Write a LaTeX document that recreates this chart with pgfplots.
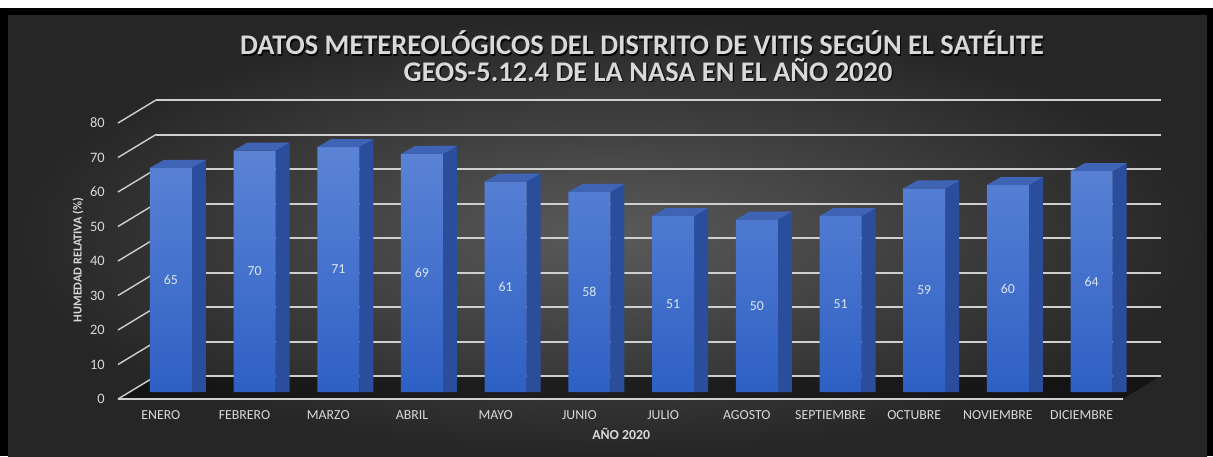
\documentclass[border=0pt]{standalone}
\usepackage{pgfplots}
\pgfplotsset{compat=1.18}
\usepackage{pgfplotstable}
\usepackage{fontspec}
\setmainfont{Carlito}

\definecolor{bgIn}{HTML}{5A5A5A}
\definecolor{bgOut}{HTML}{262626}
\definecolor{gridgray}{HTML}{CFCFCF}
\definecolor{txtgray}{HTML}{D9D9D9}
\definecolor{valtxt}{HTML}{DCE4F6}
\definecolor{frontTop}{HTML}{5C84D6}
\definecolor{frontBot}{HTML}{2E60C4}
\definecolor{sideBlue}{HTML}{2B4E9C}
\definecolor{topBlue}{HTML}{3F63B5}

% humedad relativa mensual (%)
\pgfplotstableread{
i v
0 65
1 70
2 71
3 69
4 61
5 58
6 51
7 50
8 51
9 59
10 60
11 64
}\hum

% cara superior de cada columna (paralelogramo)
\pgfdeclareplotmark{barTop}{%
  \pgfpathmoveto{\pgfqpoint{-10.5pt}{0pt}}%
  \pgfpathlineto{\pgfqpoint{10.5pt}{0pt}}%
  \pgfpathlineto{\pgfqpoint{17.5pt}{4pt}}%
  \pgfpathlineto{\pgfqpoint{-3.5pt}{4pt}}%
  \pgfpathclose
  \pgfusepath{fill}}

\begin{document}
\begin{tikzpicture}
% marco y fondo
\fill[black] (0,0) rectangle (606.5pt,228pt);
\fill[white] (0,224pt) rectangle (606.5pt,228pt);
\shade[inner color=bgIn, outer color=bgOut] (4pt,0) rectangle (603.5pt,220pt);

% titulo
\foreach \dx/\dy/\c in {0.6pt/-0.6pt/black, 0pt/0pt/txtgray}{
  \node[font=\fontsize{14.2}{16}\bfseries, text=\c] at ([xshift=\dx,yshift=\dy]321pt,206.5pt)
    {DATOS METEREOLÓGICOS DEL DISTRITO DE VITIS SEGÚN EL SATÉLITE};
  \node[font=\fontsize{14.2}{16}\bfseries, text=\c] at ([xshift=\dx,yshift=\dy]324pt,193pt)
    {GEOS-5.12.4 DE LA NASA EN EL AÑO 2020};
}

\begin{axis}[
  at={(64.5pt,32pt)}, anchor=south west,
  scale only axis, width=502.25pt, height=138pt,
  xmin=-0.5, xmax=11.5, ymin=0, ymax=80,
  clip=false,
  axis line style={draw=none},
  major tick length=0pt,
  xtick={0,...,11},
  xticklabels={ENERO,FEBRERO,MARZO,ABRIL,MAYO,JUNIO,JULIO,AGOSTO,SEPTIEMBRE,OCTUBRE,NOVIEMBRE,DICIEMBRE},
  ytick={0,10,...,80},
  xticklabel style={anchor=center, xshift=-5pt, yshift=-11.5pt,
    font=\fontsize{6.9}{8}\selectfont, text=txtgray},
  yticklabel style={anchor=east, inner sep=0pt, xshift=-12pt, yshift=-3.5pt,
    font=\fontsize{7.2}{8}\selectfont, text=txtgray},
  /pgf/number format/assume math mode=true,
  xlabel={AÑO 2020},
  xlabel style={at={(axis description cs:0.49,-0.152)}, anchor=center,
    font=\fontsize{6.9}{8}\bfseries, text=txtgray},
  ylabel={HUMEDAD RELATIVA (\%)},
  ylabel style={at={(axis description cs:-0.0508,0.478)}, anchor=center,
    font=\fontsize{6.1}{7}\bfseries, text=txtgray},
]
% suelo
\fill[black, opacity=0.45]
  ([xshift=-5.5pt,yshift=-3.5pt]axis cs:-0.5,0) --
  ([xshift=-5.5pt,yshift=-3.5pt]axis cs:11.5,0) --
  ([xshift=13.5pt,yshift=8pt]axis cs:11.5,0) --
  ([xshift=13.5pt,yshift=8pt]axis cs:-0.5,0) -- cycle;
% pared del fondo y lineas laterales
\pgfplotsinvokeforeach{0,10,...,80}{
  \draw[gridgray, line width=1pt]
    ([xshift=13.5pt,yshift=8pt]axis cs:-0.5,#1) -- ([xshift=13.5pt,yshift=8pt]axis cs:11.5,#1);
  \draw[gridgray, line width=0.7pt]
    ([xshift=-5.5pt,yshift=-3.5pt]axis cs:-0.5,#1) -- ([xshift=13.5pt,yshift=8pt]axis cs:-0.5,#1);
}
\draw[gridgray, line width=1pt]
  ([xshift=-5.5pt,yshift=-3.5pt]axis cs:-0.5,0) -- ([xshift=-5.5pt,yshift=-3.5pt]axis cs:11.5,0);

% caras laterales
\addplot[ybar, bar width=7pt, bar shift=14pt, draw=none, fill=sideBlue]
  table[x=i, y expr=\thisrow{v}+2.32] {\hum};
% caras frontales
\addplot[ybar, bar width=21pt, bar shift=0pt, draw=none, top color=frontTop, bottom color=frontBot]
  table[x=i, y=v] {\hum};
% caras superiores
\addplot[only marks, mark=barTop, color=topBlue] table[x=i, y=v] {\hum};
% etiquetas de datos
\addplot[draw=none, mark=none, point meta=explicit, nodes near coords,
  nodes near coords style={anchor=center, font=\fontsize{6.9}{8}\selectfont, text=valtxt}]
  table[x=i, y expr=\thisrow{v}/2, meta=v] {\hum};
\end{axis}
\end{tikzpicture}
\end{document}
